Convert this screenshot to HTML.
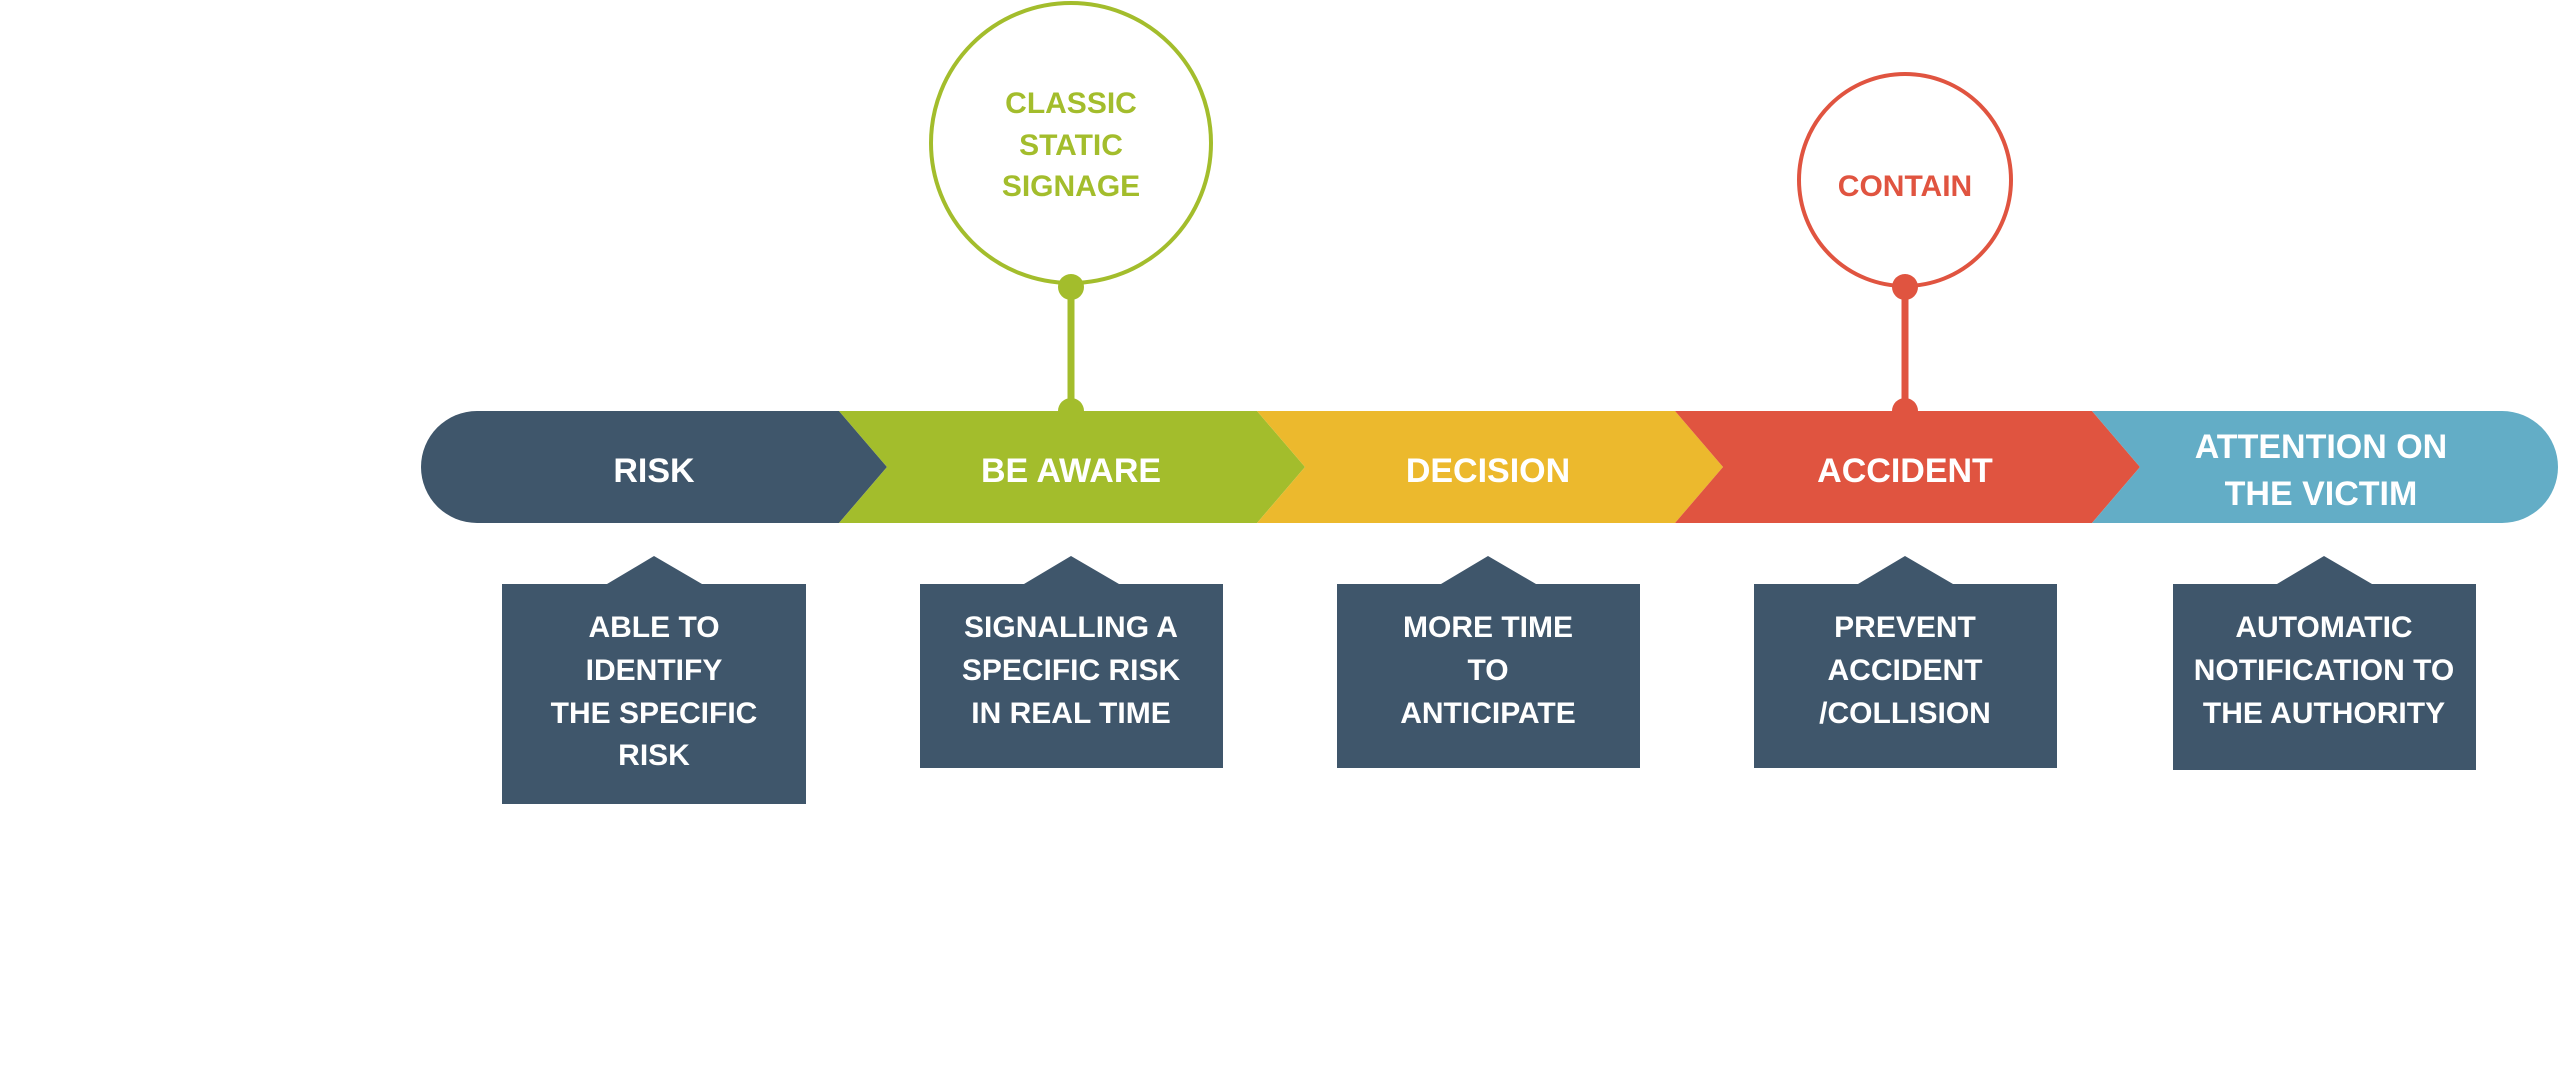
<!DOCTYPE html>
<html><head><meta charset="utf-8"><style>
html,body{margin:0;padding:0;background:#fff;}
svg{display:block}
text{font-family:"Liberation Sans",sans-serif;font-weight:bold;text-anchor:middle}
</style></head><body>
<svg width="2560" height="1084" viewBox="0 0 2560 1084" xmlns="http://www.w3.org/2000/svg">
<!-- bar segments -->
<path d="M477,411 H839 L887,467 L839,523 H477 A56,56 0 0 1 477,411 Z" fill="#3f566b"/>
<polygon points="839,411 1257,411 1305,467 1257,523 839,523 887,467" fill="#a3bd2c"/>
<polygon points="1257,411 1675,411 1723,467 1675,523 1257,523 1305,467" fill="#ecb92d"/>
<polygon points="1675,411 2092,411 2140,467 2092,523 1675,523 1723,467" fill="#e05440"/>
<path d="M2092,411 H2502 A56,56 0 0 1 2502,523 H2092 L2140,467 Z" fill="#63adc6"/>
<!-- circles -->
<circle cx="1071" cy="143" r="140" fill="#fff" stroke="#a3bd2c" stroke-width="4"/>
<line x1="1071" y1="287" x2="1071" y2="411" stroke="#a3bd2c" stroke-width="7"/>
<circle cx="1071" cy="287" r="13" fill="#a3bd2c"/>
<circle cx="1071" cy="411" r="13" fill="#a3bd2c"/>
<circle cx="1905" cy="180" r="106" fill="#fff" stroke="#e05440" stroke-width="4"/>
<line x1="1905" y1="287" x2="1905" y2="411" stroke="#e05440" stroke-width="7"/>
<circle cx="1905" cy="287" r="13" fill="#e05440"/>
<circle cx="1905" cy="411" r="13" fill="#e05440"/>
<g font-size="30" fill="#a3bd2c">
<text x="1071" y="113">CLASSIC</text>
<text x="1071" y="155">STATIC</text>
<text x="1071" y="196">SIGNAGE</text>
</g>
<text x="1905" y="196" font-size="30" fill="#e05440">CONTAIN</text>
<!-- bar labels -->
<g font-size="34" fill="#fff">
<text x="654" y="482">RISK</text>
<text x="1071" y="482">BE AWARE</text>
<text x="1488" y="482">DECISION</text>
<text x="1905" y="482">ACCIDENT</text>
<text x="2321" y="458">ATTENTION ON</text>
<text x="2321" y="505">THE VICTIM</text>
</g>
<!-- boxes -->
<g fill="#3f566b">
<polygon points="502,584 607,584 654,556 702,584 806,584 806,804 502,804"/>
<polygon points="920,584 1024,584 1071,556 1119,584 1223,584 1223,768 920,768"/>
<polygon points="1337,584 1441,584 1488,556 1536,584 1640,584 1640,768 1337,768"/>
<polygon points="1754,584 1858,584 1905,556 1953,584 2057,584 2057,768 1754,768"/>
<polygon points="2173,584 2277,584 2324,556 2372,584 2476,584 2476,770 2173,770"/>
</g>
<g font-size="30" fill="#fff">
<text x="654" y="637">ABLE TO</text>
<text x="654" y="680">IDENTIFY</text>
<text x="654" y="723">THE SPECIFIC</text>
<text x="654" y="765">RISK</text>
<text x="1071" y="637">SIGNALLING A</text>
<text x="1071" y="680">SPECIFIC RISK</text>
<text x="1071" y="723">IN REAL TIME</text>
<text x="1488" y="637">MORE TIME</text>
<text x="1488" y="680">TO</text>
<text x="1488" y="723">ANTICIPATE</text>
<text x="1905" y="637">PREVENT</text>
<text x="1905" y="680">ACCIDENT</text>
<text x="1905" y="723">/COLLISION</text>
<text x="2324" y="637">AUTOMATIC</text>
<text x="2324" y="680">NOTIFICATION TO</text>
<text x="2324" y="723">THE AUTHORITY</text>
</g>
</svg>
</body></html>
